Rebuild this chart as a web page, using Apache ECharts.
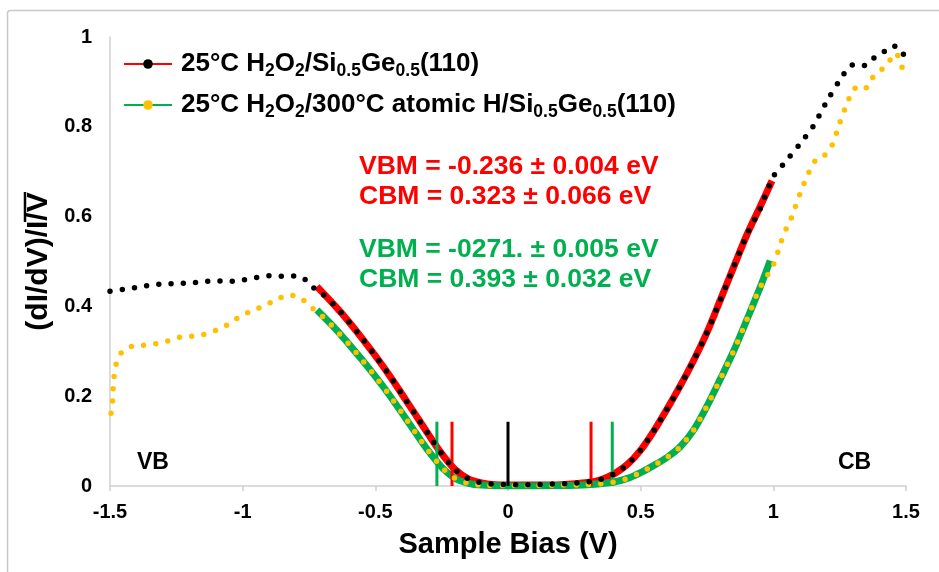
<!DOCTYPE html>
<html>
<head>
<meta charset="utf-8">
<script src="https://cdn.jsdelivr.net/npm/echarts@6/dist/echarts.min.js"></script>
<style>
html,body{margin:0;padding:0;background:#fff;}
#chart{width:939px;height:572px;}
</style>
</head>
<body>
<div id="chart"></div>
<script>
// ---------- data ----------
const seriesNames = ['25°C H2O2/Si0.5Ge0.5(110)', '25°C H2O2/300°C atomic H/Si0.5Ge0.5(110)'];

// 25°C H2O2/Si0.5Ge0.5(110) : measured (black dots)
const blackX = [-1.5,-1.45,-1.4,-1.35,-1.3,-1.25,-1.2,-1.15,-1.1,-1.05,-1.0,-0.95,-0.9,-0.85,-0.8,-0.76,-0.73,-0.7,-0.65,-0.6,-0.55,-0.5,-0.45,-0.4,-0.35,-0.3,-0.25,-0.2,-0.15,-0.1,-0.05,0,0.05,0.1,0.15,0.2,0.25,0.3,0.35,0.4,0.45,0.5,0.55,0.6,0.65,0.7,0.75,0.8,0.85,0.9,0.95,1.0,1.05,1.1,1.15,1.2,1.25,1.3,1.34,1.37,1.41,1.45,1.48,1.5];
const blackY = [0.434,0.438,0.442,0.447,0.450,0.451,0.452,0.455,0.457,0.456,0.459,0.464,0.468,0.467,0.468,0.458,0.440,0.428,0.400,0.366,0.329,0.290,0.249,0.205,0.160,0.115,0.072,0.037,0.016,0.007,0.004,0.003,0.003,0.003,0.004,0.005,0.006,0.009,0.015,0.027,0.048,0.080,0.123,0.172,0.224,0.280,0.342,0.414,0.487,0.559,0.617,0.689,0.725,0.762,0.801,0.855,0.903,0.938,0.936,0.950,0.964,0.980,0.973,0.945];

// 25°C H2O2/300°C atomic H/Si0.5Ge0.5(110) : measured (yellow dots)
const yellowX = [-1.496,-1.49,-1.488,-1.484,-1.475,-1.454,-1.412,-1.365,-1.317,-1.271,-1.224,-1.177,-1.132,-1.088,-1.044,-1.005,-0.962,-0.919,-0.874,-0.832,-0.784,-0.753,-0.715,-0.68,-0.646,-0.6,-0.55,-0.5,-0.45,-0.4,-0.35,-0.3,-0.25,-0.2,-0.15,-0.1,0,0.1,0.2,0.3,0.35,0.4,0.45,0.5,0.55,0.6,0.65,0.7,0.75,0.8,0.85,0.9,0.95,1.0,1.03,1.05,1.07,1.1,1.135,1.16,1.19,1.22,1.25,1.28,1.31,1.34,1.37,1.4,1.43,1.46,1.49,1.5];
const yellowY = [0.162,0.192,0.219,0.247,0.275,0.299,0.312,0.314,0.318,0.325,0.333,0.334,0.340,0.350,0.364,0.380,0.390,0.402,0.414,0.425,0.420,0.403,0.386,0.367,0.346,0.316,0.281,0.244,0.205,0.163,0.120,0.078,0.042,0.017,0.006,0.002,0.001,0.001,0.002,0.003,0.005,0.009,0.017,0.030,0.046,0.064,0.088,0.125,0.178,0.238,0.300,0.370,0.442,0.492,0.545,0.575,0.600,0.650,0.700,0.726,0.735,0.757,0.808,0.855,0.886,0.882,0.907,0.923,0.940,0.964,0.925,0.912];

// linear fits (red / green)
const redFitX = [-0.72,-0.65,-0.6,-0.55,-0.5,-0.45,-0.4,-0.35,-0.3,-0.25,-0.2,-0.15,-0.1,-0.05,0,0.1,0.2,0.3,0.35,0.4,0.45,0.5,0.55,0.6,0.65,0.7,0.75,0.8,0.85,0.9,0.95,0.995];
const redFitY = [0.444,0.400,0.366,0.329,0.290,0.249,0.205,0.160,0.115,0.072,0.037,0.016,0.007,0.003,0.002,0.002,0.003,0.008,0.014,0.027,0.048,0.080,0.123,0.172,0.224,0.280,0.342,0.414,0.487,0.559,0.622,0.680];
const greenFitX = [-0.72,-0.65,-0.6,-0.55,-0.5,-0.45,-0.4,-0.35,-0.3,-0.25,-0.2,-0.15,-0.1,0,0.2,0.3,0.4,0.45,0.5,0.55,0.6,0.65,0.7,0.75,0.8,0.85,0.9,0.95,0.988];
const greenFitY = [0.392,0.350,0.316,0.281,0.244,0.205,0.163,0.120,0.078,0.042,0.017,0.006,0.002,0.000,0.001,0.003,0.009,0.017,0.030,0.046,0.064,0.088,0.125,0.178,0.238,0.300,0.370,0.442,0.502];

// band-edge markers
const redEdges = [-0.211, 0.313];
const greenEdges = [-0.268, 0.393];
const fermiLevel = [0];
const markerHeight = 0.143;

// tick labels & annotation texts
const xTicks = [-1.5,-1,-0.5,0,0.5,1,1.5];
const yTicks = [0,0.2,0.4,0.6,0.8,1];
const redNotes = ['VBM = -0.236 ± 0.004 eV', 'CBM = 0.323 ± 0.066 eV'];
const greenNotes = ['VBM = -0271. ± 0.005 eV', 'CBM = 0.393 ± 0.032 eV'];

// ---------- chart ----------
const FONT = '"Liberation Sans", Arial, sans-serif';
const zip = (xs, ys) => xs.map((x, i) => [x, ys[i]]);
const chart = echarts.init(document.getElementById('chart'), null, {renderer: 'canvas'});

function markerSeries(xs, color, withLabel) {
  return xs.map(x => ({
    type: 'line', silent: true, symbol: 'none', z: 4,
    lineStyle: {color: color, width: 3},
    data: [[x, 0], {value: [x, markerHeight], label: withLabel ? {
      show: true, formatter: 'FL', position: 'top', distance: 1,
      color: '#000', fontSize: 23, fontWeight: 'bold', fontFamily: FONT
    } : {show: false}}]
  }));
}

const legendFormatter = name => name
  .replace(/H2O2/g, 'H{s|2}O{s|2}')
  .replace(/Si0\.5Ge0\.5/g, 'Si{s|0.5}Ge{s|0.5}');

const textEl = (txt, x, y, color, size, align) => ({
  type: 'text', x: x, y: y, silent: true, z: 10,
  style: {text: txt, fill: color, font: 'bold ' + size + 'px ' + FONT,
          textAlign: align || 'left', textVerticalAlign: 'middle'}
});

const option = {
  animation: false,
  backgroundColor: '#fff',
  grid: {left: 110, right: 33, top: 37, bottom: 86},
  xAxis: {
    type: 'value', min: -1.5, max: 1.5, interval: 0.5,
    name: 'Sample Bias (V)', nameLocation: 'middle', nameGap: 44,
    nameTextStyle: {fontSize: 29, fontWeight: 'bold', fontFamily: FONT, color: '#000'},
    axisLine: {show: true, onZero: false, lineStyle: {color: '#D0D0D0', width: 1.5}},
    axisTick: {show: true, length: 5, lineStyle: {color: '#D0D0D0', width: 1.5}},
    splitLine: {show: false},
    axisLabel: {margin: 16, fontSize: 20, fontWeight: 'bold', fontFamily: FONT, color: '#000',
      formatter: v => String(xTicks.find(t => Math.abs(t - v) < 1e-9) ?? v)}
  },
  yAxis: {
    type: 'value', min: 0, max: 1, interval: 0.2,
    name: '(dI/dV)/I/V', nameLocation: 'middle', nameGap: 50, nameRotate: 90,
    nameTextStyle: {fontSize: 30, fontWeight: 'bold', fontFamily: FONT, color: '#000'},
    axisLine: {show: true, onZero: false, lineStyle: {color: '#D0D0D0', width: 1.5}},
    axisTick: {show: false},
    splitLine: {show: false},
    axisLabel: {margin: 18, fontSize: 20, fontWeight: 'bold', fontFamily: FONT, color: '#000',
      formatter: v => String(yTicks.find(t => Math.abs(t - v) < 1e-9) ?? v)}
  },
  legend: {
    orient: 'vertical', left: 118, top: 43, itemWidth: 48, itemHeight: 12, itemGap: 9,
    data: seriesNames, selectedMode: false,
    formatter: legendFormatter,
    textStyle: {fontSize: 26, fontWeight: 'bold', fontFamily: FONT, color: '#000', lineHeight: 32,
      padding: [0, 0, 0, 4],
      rich: {s: {fontSize: 17.5, fontWeight: 'bold', fontFamily: FONT, color: '#000', lineHeight: 17, verticalAlign: 'bottom'}}}
  },
  graphic: [
    {type: 'rect', silent: true, z: -1, shape: {x: 7.5, y: 10.5, width: 960, height: 600, r: 3},
     style: {fill: 'none', stroke: '#C8C8C8', lineWidth: 1.5}},
    {type: 'line', silent: true, shape: {x1: 25, y1: 192, x2: 25, y2: 222}, style: {stroke: '#000', lineWidth: 2.5}},
    textEl(redNotes[0], 359, 167, '#FF0000', 26.5),
    textEl(redNotes[1], 359, 197, '#FF0000', 26.5),
    textEl(greenNotes[0], 359, 250, '#00B050', 26.5),
    textEl(greenNotes[1], 359, 280, '#00B050', 26.5),
    textEl('VB', 137, 463, '#000', 23),
    textEl('CB', 838, 463, '#000', 23)
  ],
  series: [
    {name: seriesNames[0], type: 'line', data: [], symbol: 'circle', symbolSize: 10,
     itemStyle: {color: '#000'}, lineStyle: {color: '#FF0000', width: 3.5}},
    {name: seriesNames[1], type: 'line', data: [], symbol: 'circle', symbolSize: 10,
     itemStyle: {color: '#FFC000'}, lineStyle: {color: '#00B050', width: 3.5}},
    {type: 'line', silent: true, symbol: 'none', z: 2, smooth: 0.3,
     data: zip(redFitX, redFitY), lineStyle: {color: '#FF0000', width: 7}},
    {type: 'line', silent: true, symbol: 'none', z: 2, smooth: 0.3,
     data: zip(greenFitX, greenFitY), lineStyle: {color: '#00B050', width: 7}},
    ...markerSeries(redEdges, '#FF0000', false),
    ...markerSeries(greenEdges, '#00B050', false),
    ...markerSeries(fermiLevel, '#000000', true),
    {type: 'line', silent: true, symbol: 'none', z: 5, smooth: 0.3,
     data: zip(yellowX, yellowY),
     lineStyle: {color: '#FFC000', width: 5.5, type: [0, 12.3], cap: 'round'}},
    {type: 'line', silent: true, symbol: 'none', z: 6, smooth: 0.3,
     data: zip(blackX, blackY),
     lineStyle: {color: '#000000', width: 5.5, type: [0, 12.3], cap: 'round'}}
  ]
};
chart.setOption(option);
</script>
</body>
</html>
